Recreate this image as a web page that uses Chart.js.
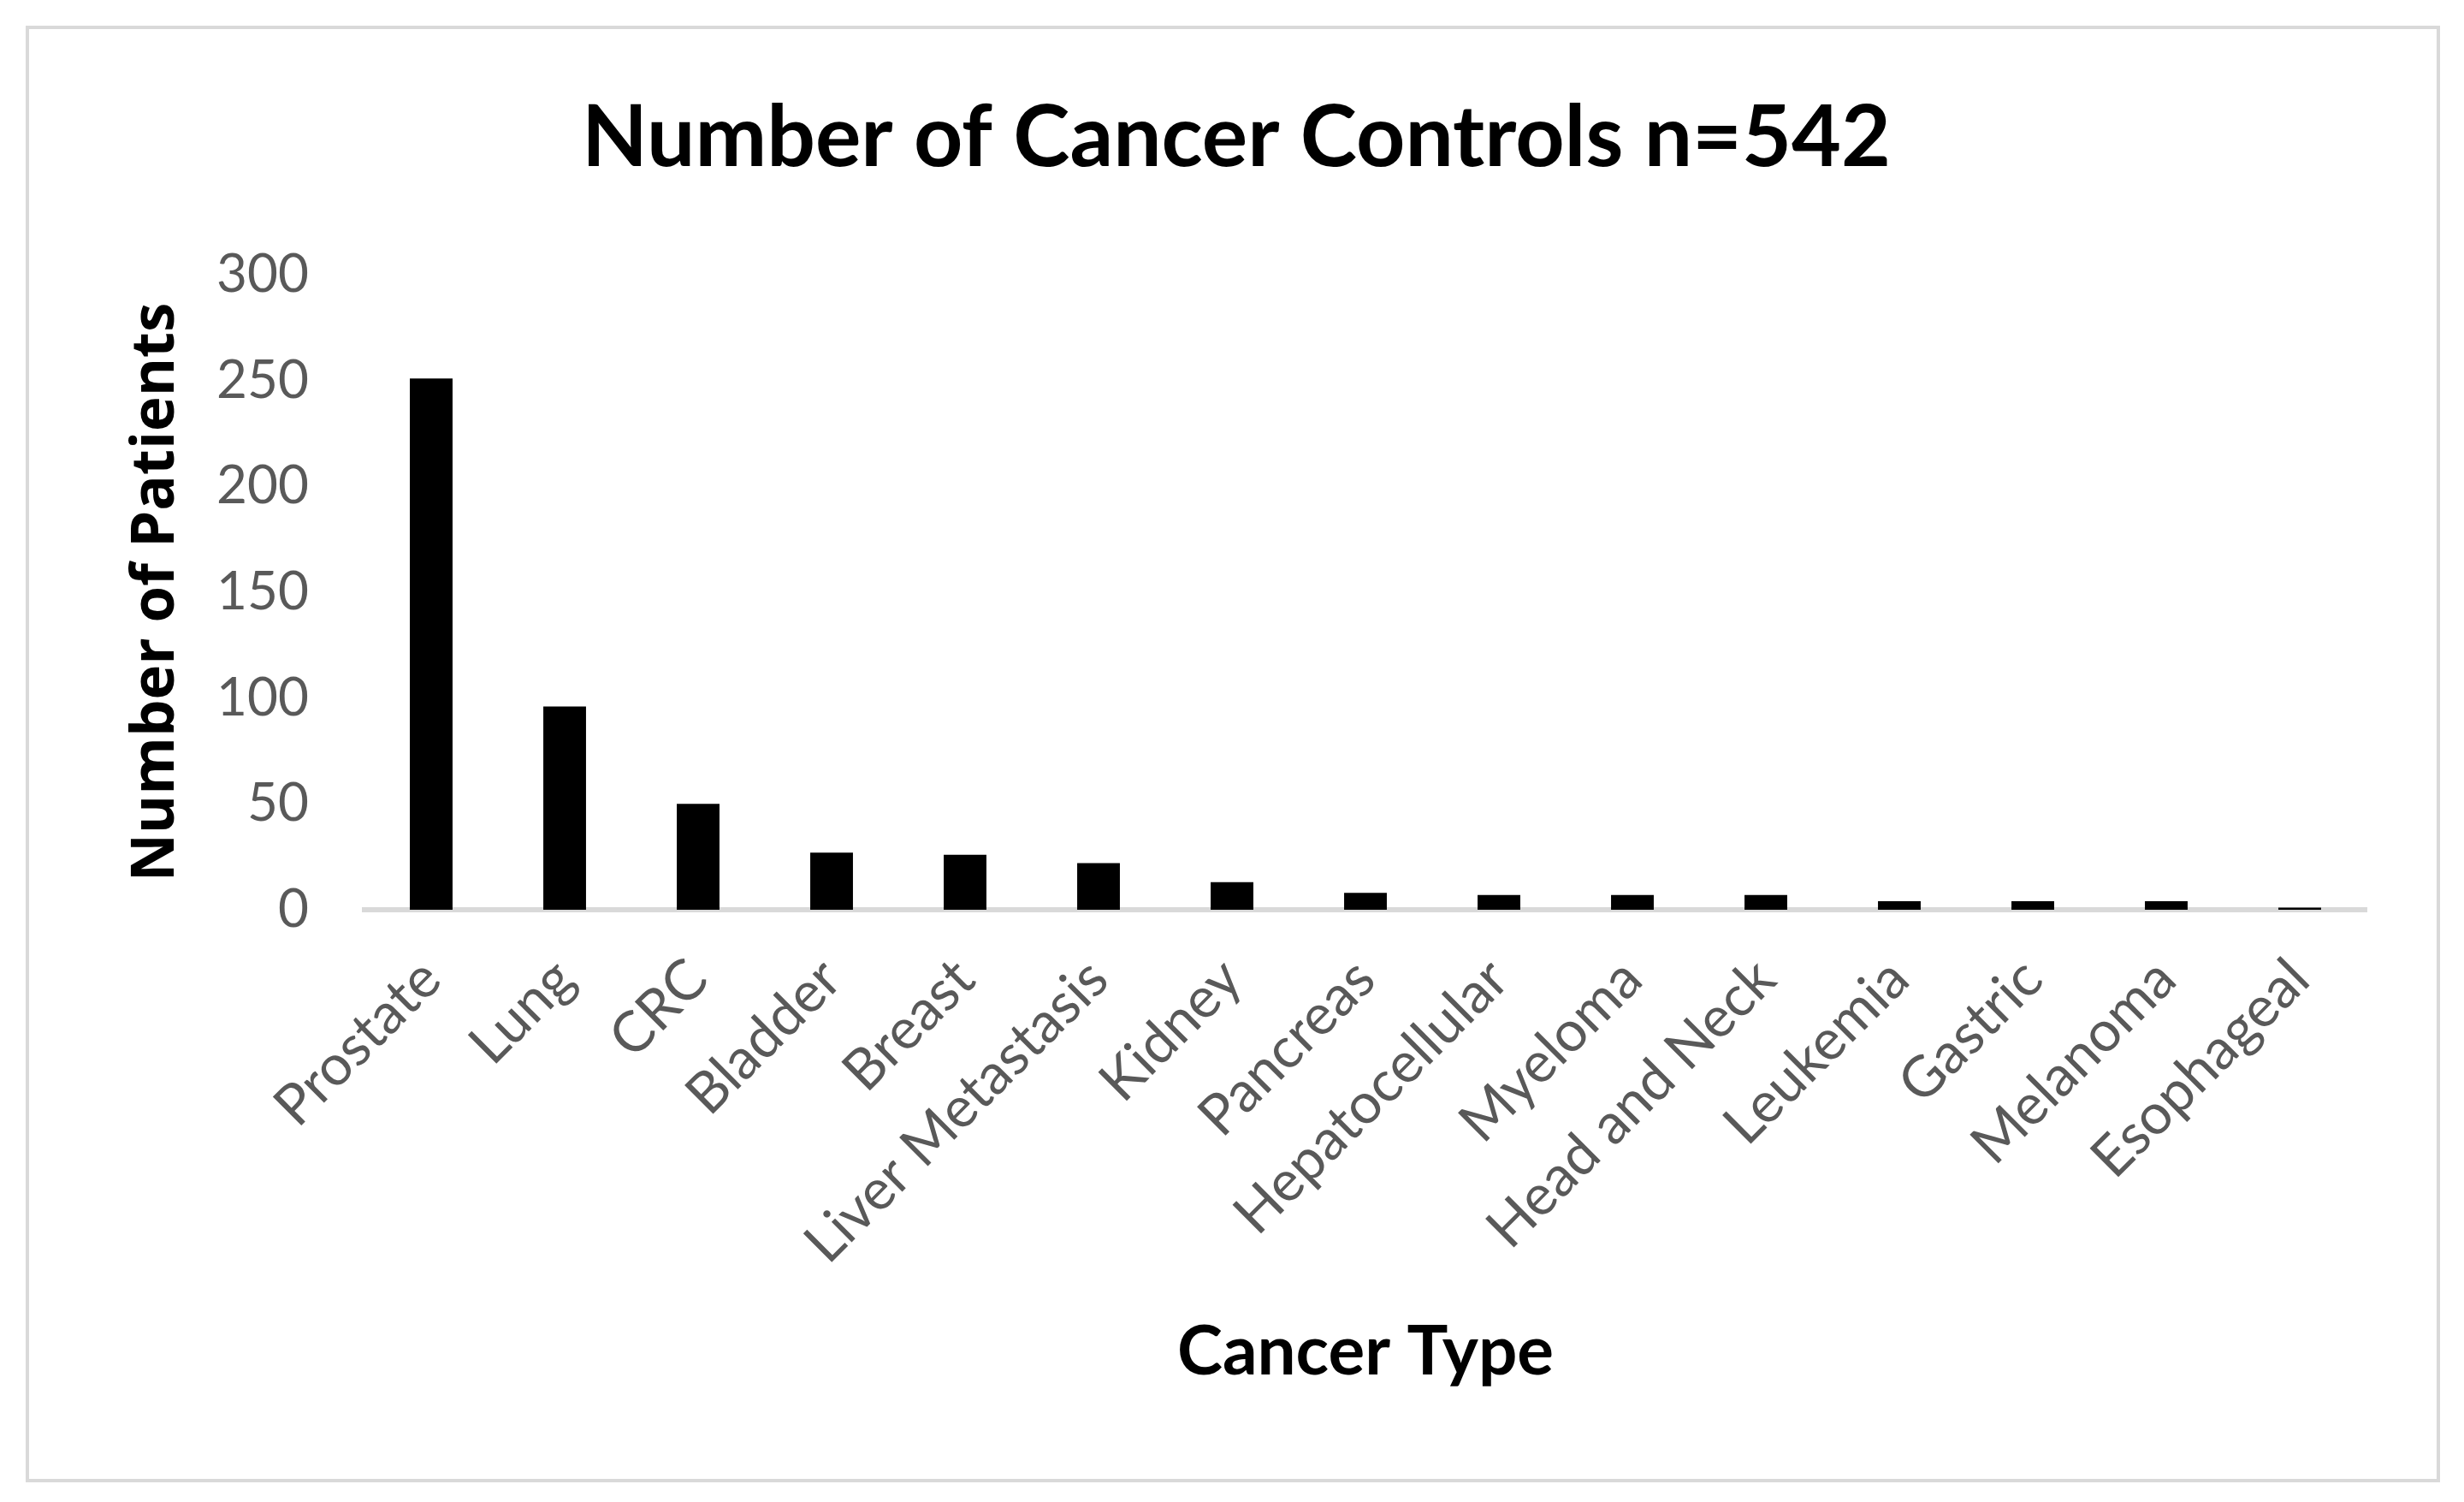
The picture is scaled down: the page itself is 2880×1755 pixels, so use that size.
<!DOCTYPE html>
<html>
<head>
<meta charset="utf-8">
<title>Number of Cancer Controls</title>
<script src="https://cdn.jsdelivr.net/npm/chart.js@4/dist/chart.umd.min.js"></script>
<style>
  body { margin: 0; background: #fff; }
  #frame { position: absolute; left: 30px; top: 30px; width: 2814px; height: 1694px; border: 4px solid #d9d9d9; }
  canvas { position: absolute; left: 0; top: 0; }
</style>
</head>
<body>
<div id="frame"></div>
<canvas id="cancerChart" width="2880" height="1755"></canvas>
<script>
'use strict';

//--------> Chart data <--------
const cancerTypes = ['Prostate', 'Lung', 'CRC', 'Bladder', 'Breast', 'Liver Metastasis', 'Kidney',
  'Pancreas', 'Hepatocellular', 'Myeloma', 'Head and Neck', 'Leukemia', 'Gastric', 'Melanoma', 'Esophageal'];
const patientCounts = [251, 96, 50, 27, 26, 22, 13, 8, 7, 7, 7, 4, 4, 4, 1];
const yTickValues = [0, 50, 100, 150, 200, 250, 300];

const chartTitle = 'Number of Cancer Controls n=542';
const xTitle = 'Cancer Type';
const yTitle = 'Number of Patients';

const tickGray = '#595959';

//--------> Bar chart <--------
let ctx = document.getElementById('cancerChart').getContext('2d');
let cancerChart = new Chart(ctx, {
  type: 'bar',
  data: {
    labels: cancerTypes,
    datasets: [{
      label: yTitle,
      data: patientCounts,
      backgroundColor: '#000000',
      categoryPercentage: 1.0,
      barPercentage: 0.32
    }]
  },
  options: {
    responsive: false,
    devicePixelRatio: 1,
    animation: false,
    layout: { padding: { left: 124, right: 114, top: 0, bottom: 0 } },
    plugins: {
      legend: { display: false },
      tooltip: { enabled: false },
      title: {
        display: true,
        text: chartTitle,
        color: '#000000',
        font: { family: 'Lato', size: 100, weight: 'bold' },
        padding: { top: 102, bottom: 99 }
      }
    },
    scales: {
      x: {
        grid: { display: false },
        border: { display: true, color: '#d9d9d9', width: 6 },
        ticks: {
          autoSkip: false,
          maxRotation: 45,
          minRotation: 45,
          padding: 34,
          color: tickGray,
          font: { family: 'Lato', size: 66 }
        },
        title: {
          display: true,
          text: xTitle,
          color: '#000000',
          font: { family: 'Lato', size: 80, weight: 'bold' },
          padding: { top: 0, bottom: 127 }
        },
        afterFit: function (scale) { scale.height = 692; }
      },
      y: {
        min: yTickValues[0],
        max: yTickValues[yTickValues.length - 1],
        grid: { display: false },
        border: { display: false },
        afterBuildTicks: function (scale) {
          scale.ticks = yTickValues.map(v => ({ value: v }));
        },
        ticks: {
          padding: 57,
          color: tickGray,
          font: { family: 'Lato', size: 62 }
        },
        title: {
          display: true,
          text: yTitle,
          color: '#000000',
          font: { family: 'Open Sans', size: 69, weight: 'bold' },
          padding: { top: 18, bottom: 0 }
        },
        afterFit: function (scale) { scale.width = 302; }
      }
    }
  }
});
</script>
</body>
</html>
